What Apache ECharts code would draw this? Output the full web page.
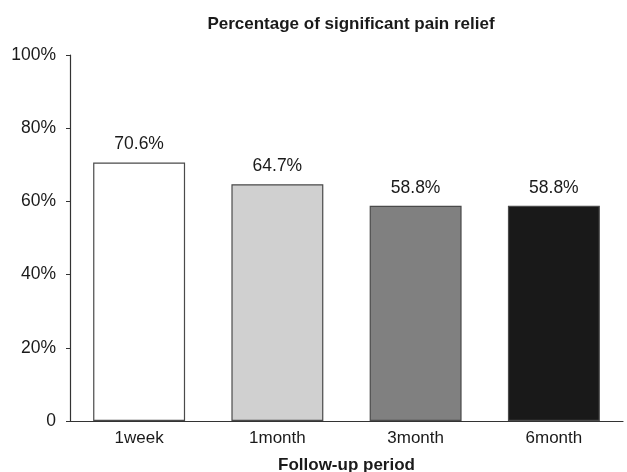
<!DOCTYPE html>
<html>
<head>
<meta charset="utf-8">
<style>
  html, body { margin: 0; padding: 0; background: #fff; }
  #chart { width: 627px; height: 472px; }
</style>
<script src="https://cdn.jsdelivr.net/npm/echarts@6/dist/echarts.min.js"></script>
</head>
<body>
<div id="chart"></div>
<script>
// Follow-up periods and share of patients with significant pain relief (%)
const periods = ['1week', '1month', '3month', '6month'];
const reliefPct = [70.6, 64.7, 58.8, 58.8];
const barColors = ['#ffffff', '#d0d0d0', '#808080', '#191919'];
const yTicks = [0, 20, 40, 60, 80, 100];

const narrow = '"Liberation Sans Narrow", "Arial Narrow", "Liberation Sans", Arial, sans-serif';
const plain = '"Liberation Sans", Arial, sans-serif';

const chart = echarts.init(document.getElementById('chart'));
chart.setOption({
  animation: false,
  backgroundColor: '#ffffff',
  title: {
    text: 'Percentage of significant pain relief',
    left: 346,
    textAlign: 'center',
    top: 11,
    textStyle: { fontFamily: narrow, fontWeight: 'bold', fontSize: 17, color: '#1a1a1a' }
  },
  grid: { left: 70, right: 4, top: 55, bottom: 51, outerBoundsMode: 'none', containLabel: false },
  xAxis: {
    type: 'category',
    data: periods,
    name: 'Follow-up period',
    nameLocation: 'middle',
    nameGap: 36,
    nameTextStyle: { fontFamily: narrow, fontWeight: 'bold', fontSize: 17, color: '#1a1a1a' },
    axisLine: { lineStyle: { color: '#333', width: 1.2 } },
    axisTick: { alignWithLabel: true, length: 5, lineStyle: { color: '#333' } },
    axisLabel: { fontFamily: plain, fontSize: 17, color: '#1a1a1a', margin: 9 }
  },
  yAxis: {
    type: 'value',
    min: yTicks[0],
    max: yTicks[yTicks.length - 1],
    interval: 20,
    splitLine: { show: false },
    axisLine: { show: true, lineStyle: { color: '#333', width: 1.2 } },
    axisTick: { show: true, length: 4, lineStyle: { color: '#333' } },
    axisLabel: {
      fontFamily: plain, fontSize: 17.5, color: '#1a1a1a', margin: 14,
      formatter: v => (v === 0 ? '0' : v + '%')
    }
  },
  series: [{
    type: 'bar',
    barWidth: '66.5%',
    data: reliefPct.map((v, i) => ({
      value: v,
      itemStyle: { color: barColors[i], borderColor: '#4a4a4a', borderWidth: 1.2 }
    })),
    label: {
      show: true,
      position: 'top',
      distance: 9,
      fontFamily: plain,
      fontSize: 17.5,
      color: '#1a1a1a',
      formatter: p => p.value.toFixed(1) + '%'
    }
  }]
});
</script>
</body>
</html>
